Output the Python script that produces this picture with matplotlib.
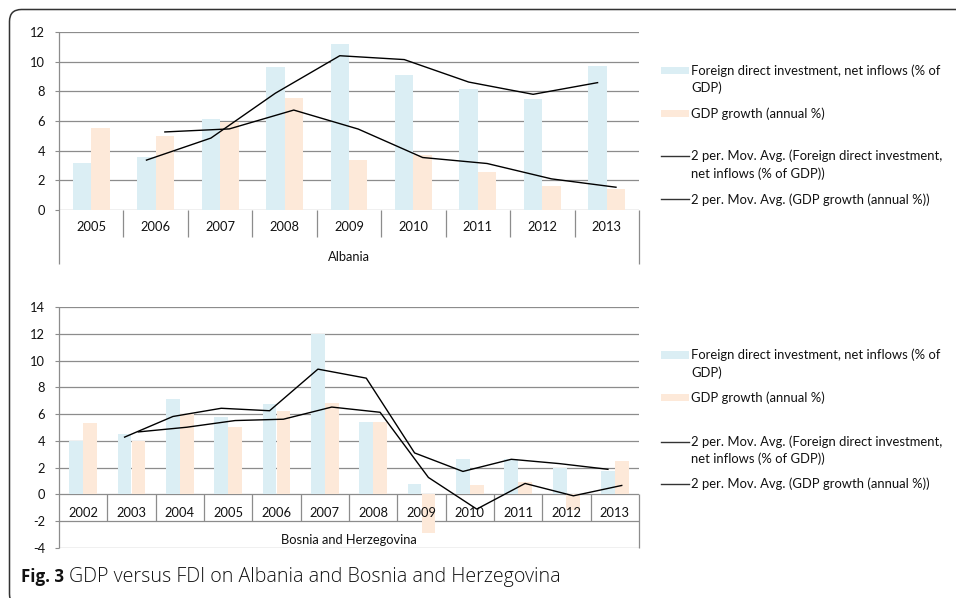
import matplotlib
matplotlib.use("Agg")
import matplotlib.pyplot as plt
import numpy as np
import pandas as pd
from matplotlib.patches import FancyBboxPatch, Rectangle
from matplotlib.lines import Line2D
from matplotlib.transforms import IdentityTransform

plt.rcParams['font.family'] = ['Lato', 'DejaVu Sans']
plt.rcParams['axes.unicode_minus'] = False

# Albania
alb_years = [2005, 2006, 2007, 2008, 2009, 2010, 2011, 2012, 2013]
alb_fdi = [3.13, 3.58, 6.11, 9.65, 11.18, 9.13, 8.14, 7.47, 9.72]
alb_gdp = [5.52, 5.00, 5.93, 7.55, 3.36, 3.70, 2.55, 1.62, 1.42]

# Bosnia and Herzegovina
bih_years = [2002, 2003, 2004, 2005, 2006, 2007, 2008, 2009, 2010, 2011, 2012, 2013]
bih_fdi = [4.02, 4.54, 7.11, 5.77, 6.74, 12.0, 5.39, 0.80, 2.62, 2.62, 1.97, 1.77]
bih_gdp = [5.32, 4.02, 6.02, 5.02, 6.22, 6.84, 5.44, -2.92, 0.70, 0.92, -1.15, 2.47]

legend_labels = [
    ["Foreign direct investment, net inflows (% of", "GDP)"],
    ["GDP growth (annual %)"],
    ["2 per. Mov. Avg. (Foreign direct investment,", "net inflows (% of GDP))"],
    ["2 per. Mov. Avg. (GDP growth (annual %))"],
]

FDI_COLOR = "#dbeef4"
GDP_COLOR = "#fde9d9"
GRID = "#8c8c8c"
TXT = "#111111"
BAR_W = 1 / 3.5
FS = 9.3

W, H = 956, 598


def fx(px):
    return px / W


def fy(py):
    return 1 - py / H


def draw_panel(ax, years, fdi, gdp, country, ylo, yhi, cell_lo, box_lo, year_y, country_y):
    n = len(years)
    x = np.arange(n)
    ax.bar(x - BAR_W / 2, fdi, BAR_W, color=FDI_COLOR, zorder=2)
    ax.bar(x + BAR_W / 2, gdp, BAR_W, color=GDP_COLOR, zorder=2)
    fdi_ma = pd.Series(fdi).rolling(2).mean()
    gdp_ma = pd.Series(gdp).rolling(2).mean()
    ax.plot(x - BAR_W / 2, fdi_ma, color="black", lw=1.0, zorder=4)
    ax.plot(x + BAR_W / 2, gdp_ma, color="black", lw=1.0, zorder=4)

    ax.set_xlim(-0.5, n - 0.5)
    ax.set_ylim(ylo, yhi)
    ax.set_yticks(np.arange(ylo, yhi + 1, 2))
    ax.yaxis.grid(True, color=GRID, lw=0.9)
    ax.set_axisbelow(True)
    ax.set_xticks([])
    for s in ax.spines.values():
        s.set_visible(False)
    ax.tick_params(axis="y", length=2.9, width=0.8, color=GRID, pad=7,
                   labelsize=FS, labelcolor=TXT)

    # category boxes under the axis
    bounds = np.arange(n + 1) - 0.5
    ax.vlines(bounds[1:-1], cell_lo, 0, color=GRID, lw=0.9, clip_on=False)
    ax.vlines(bounds[-1], box_lo, 0, color=GRID, lw=0.9, clip_on=False)
    ax.vlines(bounds[0], box_lo, yhi, color=GRID, lw=0.9, clip_on=False)
    for xi, yr in zip(x, years):
        ax.text(xi, year_y, str(yr), ha="center", va="center", fontsize=FS,
                color=TXT, clip_on=False, zorder=3)
    ax.text((n - 1) / 2, country_y, country, ha="center", va="center",
            fontsize=FS, color=TXT, clip_on=False)


def draw_legend(fig, ys):
    kinds = ["fdi", "gdp", "line", "line"]
    for y, kind, lines in zip(ys, kinds, legend_labels):
        if kind == "line":
            fig.add_artist(Line2D([fx(661), fx(689)], [fy(y), fy(y)],
                                  color="#333333", lw=1.0))
        else:
            col = FDI_COLOR if kind == "fdi" else GDP_COLOR
            fig.add_artist(Rectangle((fx(661), fy(y + 3.7)), fx(28), 7.4 / H,
                                     color=col, lw=0))
        for k, txt in enumerate(lines):
            fig.text(fx(691), fy(y + 17.5 * k), txt, ha="left", va="center",
                     fontsize=9.4, color=TXT)


fig = plt.figure(figsize=(9.56, 5.98), dpi=100)

ax1 = fig.add_axes([fx(59), fy(209.7), (639 - 59) / W, (209.7 - 32.3) / H])
draw_panel(ax1, alb_years, alb_fdi, alb_gdp, "Albania", 0, 12,
           cell_lo=-1.85, box_lo=-3.67, year_y=-1.17, country_y=-3.18)

ax2 = fig.add_axes([fx(59), fy(547.7), (639 - 59) / W, (547.7 - 307.3) / H])
draw_panel(ax2, bih_years, bih_fdi, bih_gdp, "Bosnia and Herzegovina", -4, 14,
           cell_lo=-2, box_lo=-4, year_y=-1.37, country_y=-3.45)

draw_legend(fig, [70.7, 113.3, 156, 199.3])
draw_legend(fig, [355, 397.7, 441.7, 484])

# rounded frame, only top and left edges fall inside the picture
fig.add_artist(FancyBboxPatch((9.5, -8), 1000, H - 9.5 + 8,
                              boxstyle="round,pad=0,rounding_size=12",
                              fill=False, ec="#333333", lw=1.1,
                              transform=IdentityTransform()))

fig.text(fx(21), fy(577), "Fig. 3", fontsize=12.2, fontweight="bold",
         family=["Open Sans", "DejaVu Sans"], color=TXT, va="center")
fig.text(fx(69), fy(577), "GDP versus FDI on Albania and Bosnia and Herzegovina",
         fontsize=14.1, fontweight="light", family=["Open Sans", "DejaVu Sans"],
         color=TXT, va="center")

fig.savefig("out.png", dpi=100)
